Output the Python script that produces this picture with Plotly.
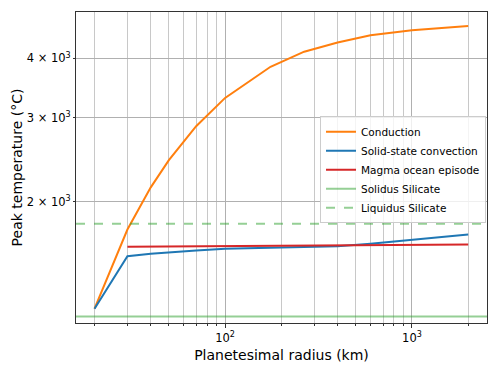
import plotly.graph_objects as go

radius = [20, 30, 40, 50, 70, 100, 175, 265, 400, 600, 1000, 2000]
conduction = [1194, 1750, 2145, 2447, 2882, 3304, 3840, 4130, 4318, 4470, 4578, 4674]
convection = [1194, 1538, 1556, 1568, 1582, 1595, 1603, 1608, 1614, 1633, 1662, 1708]
magma = [None, 1610, 1611, 1612, 1613, 1614, 1616, 1618, 1620, 1622, 1625, 1628]
solidus = 1150
liquidus = 1800

x_range_log = [1.2019, 3.4017]
y_range_log = [3.0470, 3.6992]
x_span = [10 ** x_range_log[0], 10 ** x_range_log[1]]

y_tickvals = [2000, 3000, 4000]
y_ticktext = ["2 \u00d7 10<sup>3</sup>", "3 \u00d7 10<sup>3</sup>", "4 \u00d7 10<sup>3</sup>"]
x_major = [100, 1000]
x_major_text = ["10<sup>2</sup>", "10<sup>3</sup>"]
x_minor = [20, 30, 40, 50, 60, 70, 80, 90, 200, 300, 400, 500, 600, 700, 800, 900, 2000]

FONT = "DejaVu Sans"
fig = go.Figure()
fig.add_trace(go.Scatter(x=radius, y=conduction, mode="lines", name="Conduction",
                         line=dict(color="#ff7f0e", width=2)))
fig.add_trace(go.Scatter(x=radius, y=convection, mode="lines", name="Solid-state convection",
                         line=dict(color="#1f77b4", width=2)))
fig.add_trace(go.Scatter(x=radius, y=magma, mode="lines", name="Magma ocean episode",
                         line=dict(color="#d62728", width=2)))
fig.add_trace(go.Scatter(x=x_span, y=[solidus, solidus], mode="lines", name="Solidus Silicate",
                         line=dict(color="rgba(44,160,44,0.5)", width=2)))
fig.add_trace(go.Scatter(x=x_span, y=[liquidus, liquidus], mode="lines", name="Liquidus Silicate",
                         line=dict(color="rgba(44,160,44,0.5)", width=2, dash="dash")))

# page body has an 8px margin, so the figure is sized/offset to compensate
fig.update_layout(
    width=490, height=366,
    margin=dict(l=68, r=11.3, t=4, b=51.3, autoexpand=False),
    paper_bgcolor="white", plot_bgcolor="white",
    font=dict(family=FONT, color="black", size=11.5),
    showlegend=True,
    legend=dict(x=0.9976, xanchor="right", y=0.665, yanchor="top",
                bgcolor="rgba(255,255,255,0.8)", bordercolor="#cccccc", borderwidth=1,
                font=dict(family=FONT, size=10.5), tracegroupgap=0, itemwidth=30),
)
fig.update_xaxes(
    type="log", range=x_range_log, automargin=False,
    tickmode="array", tickvals=x_major, ticktext=x_major_text,
    ticks="outside", ticklen=4, tickcolor="#333",
    showgrid=True, gridcolor="#b0b0b0", gridwidth=1,
    showline=True, linecolor="#333", linewidth=1, mirror=True,
    minor=dict(tickmode="array", tickvals=x_minor, ticks="outside", ticklen=2,
               tickcolor="#333", showgrid=True, gridcolor="#c8c8c8", gridwidth=1),
    title=dict(text="Planetesimal radius (km)", font=dict(size=14), standoff=6),
    zeroline=False,
)
fig.update_yaxes(
    type="log", range=y_range_log, automargin=False,
    tickmode="array", tickvals=y_tickvals, ticktext=y_ticktext,
    ticks="outside", ticklen=2, tickcolor="#333",
    showgrid=True, gridcolor="#b0b0b0", gridwidth=1,
    showline=True, linecolor="#333", linewidth=1, mirror=True,
    title=dict(text="Peak temperature (\u00b0C)", font=dict(size=14), standoff=0),
    zeroline=False,
)

fig.write_html("out.html")
